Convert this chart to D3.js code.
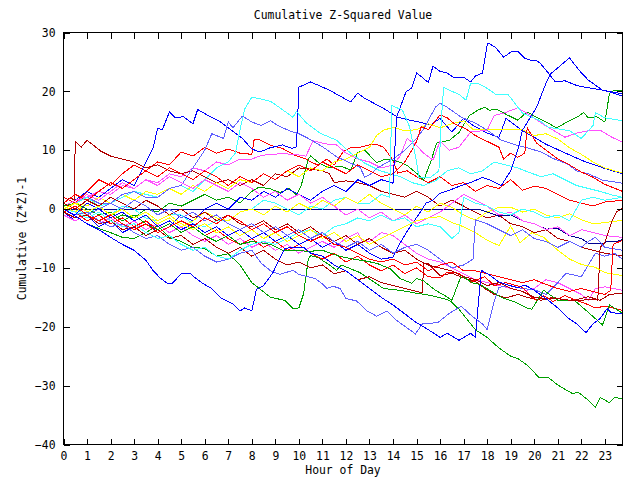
<!DOCTYPE html>
<html><head><meta charset="utf-8">
<script src="https://cdn.jsdelivr.net/npm/d3@7"></script>
<style>
body{margin:0;background:#fff}
svg{display:block}
text{font-family:"DejaVu Sans Mono","Liberation Mono",monospace;font-size:11.4px;fill:#000}
</style>
</head><body>
<svg id="chart" width="640" height="480"></svg>
<script>
// ---- texts & ticks ----
const chartTitle = "Cumulative Z-Squared Value";
const xLabel = "Hour of Day";
const yLabel = "Cumulative (Z*Z)-1";
const hourTicks = d3.range(0, 24);
const valueTicks = [-40, -30, -20, -10, 0, 10, 20, 30];

// ---- colours ----
const colorNames = ["red","green","blue","magenta","cyan","darkred","yellow","slate","navy"];
const colorValues = ["#ff0000","#00a000","#0000ff","#ff50ff","#40ffff","#b00000","#ffff00","#6060ff","#000090"];

// ---- series: [hour, cumulative value] ----
const blueA = [[0,0.5],[0.5,1.5],[1,3],[1.5,2],[2,3.5],[2.5,5],[3,4],[3.5,8],[3.8,10.3],[4.0,13.7],[4.2,13.5],[4.5,16.5],[4.75,15.5],[5.1,15.7],[5.5,14.5],[5.7,16.9],[6.1,16],[6.6,15],[7.1,13.5],[7.6,12],[8.0,10.2],[8.35,9.7],[8.77,10.4],[9.3,10.9],[9.7,10.3],[9.9,10.6],[10.0,20.7],[10.5,21.6],[11.3,20.2],[12.2,18.2],[12.5,19.7],[12.8,18.8],[13.6,17.1],[14.2,15.6],[14.6,15.2],[15.1,14.8],[15.6,14.3],[16.0,15.4],[16.5,13.1],[17.0,15.4],[17.4,14.2],[18.0,12.9],[18.5,12.2],[18.8,15.4],[19.5,13.3],[20.0,12.2],[20.5,11.0],[21.0,10.1],[21.5,9.2],[22.0,8.3],[22.5,7.6],[23.0,6.9],[23.75,6.0]];
const blueB = [[0,-0.5],[0.5,-2],[1,-1],[1.5,-3],[2,-2],[2.5,-4],[3,-3],[3.5,-2],[4,-4],[4.5,-3],[5,-1],[5.5,-2],[6,0],[6.5,1],[7,0],[7.5,2],[8,1.5],[8.5,3],[9,2],[9.5,3.5],[10,2.5],[10.5,1.5],[11,3],[11.5,4],[12,3],[12.5,5],[13,4],[13.5,5],[14.0,4.4],[14.15,15.6],[14.55,19.9],[14.8,20.6],[15.0,23.1],[15.2,22.5],[15.5,21.5],[15.7,24.3],[16.0,23.4],[16.3,23.1],[16.6,22.3],[17.0,22.4],[17.3,21.6],[17.5,22.6],[17.8,23.1],[18.0,27.9],[18.05,28.2],[18.35,27.5],[18.7,25.8],[19.05,26.8],[19.3,26.8],[19.6,25.6],[19.9,25.2],[20.1,25.2],[20.25,24.8],[20.6,23.1],[20.9,21.6],[21.3,21.8],[21.8,21.0],[22.3,20.6],[22.8,20.3],[23.3,19.9],[23.75,19.6]];
const blueC = [[0,0],[0.5,-1],[1,1],[1.5,0],[2,-1.5],[2.5,-0.5],[3,-2],[3.5,-1],[4,-3],[4.5,-2],[5,-3.5],[5.5,-2.5],[6,-4],[6.5,-3],[7,-4.5],[7.5,-3.5],[8,-5],[8.5,-4],[9,-5.5],[9.5,-4.5],[10,-6],[10.5,-5],[11,-6.5],[11.5,-5.5],[12,-7],[12.5,-6],[13,-7.5],[13.5,-8.5],[14,-8.2],[14.3,-5.8],[14.6,-3.8],[14.9,-2],[15.2,-0.3],[15.4,1],[15.7,1.5],[16,2.7],[16.4,3.2],[16.9,4],[17.3,4.5],[17.8,5.4],[18.2,4.8],[18.6,4.0],[19.0,6.5],[19.3,10],[19.5,13.4],[20.1,17.3],[20.5,21.4],[20.7,23.0],[21.0,24.0],[21.5,25.7],[21.9,23.6],[22.3,21.9],[22.9,20.2],[23.3,19.8],[23.75,19.2]];
const blueD = [[0,0],[0.5,-1.2],[1,-2.5],[1.5,-3.5],[2,-4.8],[2.5,-6],[3,-7],[3.5,-8.7],[3.8,-10.4],[4.1,-11.7],[4.4,-12.6],[4.6,-12.7],[5.0,-11],[5.4,-10.9],[5.5,-11.4],[5.9,-12.6],[6.3,-13.5],[6.7,-15.1],[7.2,-16.1],[7.5,-17.3],[7.7,-16.8],[8.0,-17.3],[8.2,-13.6],[8.5,-13],[8.9,-10.8],[9.1,-9.1],[9.4,-6.7],[9.7,-6.5],[10.2,-6.5],[10.5,-7.5],[11,-8],[11.5,-9.5],[12,-10.5],[12.5,-12],[13,-13.5],[13.5,-15],[14,-16.3],[14.5,-17.8],[15,-19.3],[15.5,-20.5],[16,-21.8],[16.3,-21.1],[16.8,-22.3],[17.3,-21.1],[17.5,-21.8],[17.75,-10.4],[18.1,-11.2],[18.5,-12.4],[18.9,-12.9],[19.3,-13.4],[19.6,-12.9],[20.0,-13.8],[20.6,-15.5],[21.0,-16.8],[21.4,-18.4],[21.8,-19.5],[22.2,-21],[22.5,-19.5],[22.8,-18.6],[23.1,-16.9],[23.25,-17.5],[23.5,-17.7],[23.75,-17.7]];
const cyanA = [[0,1],[0.5,0],[1,-1],[1.5,0.5],[2,1],[2.5,2],[3,3],[3.5,2.5],[4,2],[4.5,3.5],[5,4],[5.5,3],[6,5],[6.5,7],[7,8],[7.3,9.5],[7.5,13.5],[7.7,17],[8.0,19.0],[8.3,18.8],[8.8,18.3],[9.3,16.9],[9.75,15.6],[9.9,16.6],[10.3,14.7],[10.9,12.9],[11.6,11.7],[12.2,9.5],[12.8,7.8],[13.4,6.6],[13.8,6.1],[14.3,5.5],[14.8,4.5],[15.3,4.0],[15.8,4.8],[16.3,6.5],[16.8,7.0],[17.3,6.0],[17.8,6.5],[18.3,8.0],[18.8,7.5],[19.3,7.0],[19.8,6.2],[20.3,5.5],[20.8,6.0],[21.3,5.0],[21.8,4.0],[22.3,3.5],[22.8,3.0],[23.3,2.4],[23.75,2.0]];
const cyanB = [[0,0],[0.5,1],[1,2],[1.5,0.5],[2,-1],[2.5,0.5],[3,0],[3.5,-1.5],[4,-2],[4.5,-1],[5,-1],[5.5,-2.5],[6,-3],[6.5,-2],[7,-2],[7.5,-0.5],[8,0],[8.5,1.5],[9,1],[9.5,0],[10,-1],[10.5,0.5],[11,0],[11.5,1.5],[12,2],[12.5,1],[13,1],[13.5,2.5],[13.85,2.0],[13.95,17.6],[14.4,16.8],[14.7,14],[15.0,8],[15.1,5.4],[15.6,5.4],[15.95,6.5],[16.05,15],[16.15,20.7],[16.5,20.0],[16.8,19.5],[17.1,18.5],[17.3,21.4],[17.6,21.4],[18.0,20.5],[18.4,19.4],[18.9,19.4],[19.5,16.3],[20.2,15.1],[20.6,13.9],[21.5,13.3],[22.0,12.0],[22.5,14.2],[22.6,16.4],[23.0,15.5],[23.75,15.0]];
const cyanC = [[0,0],[0.5,-0.5],[1,-1.5],[1.5,-0.5],[2,-2],[2.5,-3],[3,-2.5],[3.5,-4],[4,-5],[4.5,-4.5],[5,-6],[5.5,-7],[6,-6.5],[6.5,-8],[7,-8.5],[7.5,-7],[8,-6],[8.5,-5.5],[9,-6],[9.5,-5],[10,-4],[10.5,-3.5],[11,-4.5],[11.5,-3],[12,-2.5],[12.5,-1.5],[13,-2],[13.5,-1],[14,-2],[14.5,-1.5],[15,-3],[15.5,-2.5],[16,-3],[16.5,-5],[16.8,-4],[17,2],[17.5,1],[18,0.5],[18.5,-0.5],[19,-1],[19.5,0],[20,-0.5],[20.5,-1.5],[21,-1],[21.5,-2],[22,1.5],[22.5,2],[23,1.5],[23.75,2.0]];
const greenA = [[0,0.5],[0.5,-0.5],[1,-1.5],[1.5,-0.5],[2,-2],[2.5,-1],[3,-1.5],[3.5,0],[4,-0.5],[4.5,1],[5,0.5],[5.5,1.5],[6,2.5],[6.5,1.5],[7,2],[7.5,1],[8,3],[8.3,3.7],[8.75,3.5],[9.2,2.8],[9.6,3.5],[9.9,2.4],[10.1,4],[10.4,8.5],[10.5,9.0],[10.9,7.7],[11.3,7.0],[11.8,7.3],[12.2,6.6],[12.5,9.6],[12.8,10],[13.3,7.9],[13.7,8.5],[14.0,8.3],[14.4,7.8],[14.6,7.4],[15.0,6.1],[15.3,4.9],[15.6,8],[15.85,11.2],[16.4,11.7],[16.8,13.0],[17.25,15.9],[17.6,16.8],[17.9,17.3],[18.1,16.8],[18.4,17.0],[18.7,16.3],[19.3,15.1],[19.7,16.5],[20.1,15.6],[20.5,14.8],[20.95,13.8],[21.4,14.8],[21.85,15.7],[22.1,16.4],[22.3,15.5],[22.65,15.7],[23.0,14.8],[23.2,19.7],[23.4,20.2],[23.75,20.2]];
const greenB = [[0,0],[0.5,-1.2],[1,-2.5],[1.5,-3.3],[2,-4],[2.5,-4.8],[3,-5],[3.5,-4],[4,-2.8],[4.5,-4.8],[5,-5.5],[5.5,-6.5],[6,-6.7],[6.5,-8],[7,-7.6],[7.5,-9.5],[8,-12.5],[8.8,-15],[9.4,-15.5],[9.75,-16.9],[10.0,-16.8],[10.2,-14.4],[10.4,-8.5],[10.5,-7.9],[10.8,-8.2],[11.3,-9.5],[11.6,-10.4],[11.8,-9.5],[12.6,-10.8],[13.6,-13.5],[14.3,-13.8],[15.0,-14.3],[15.65,-14.7],[16.4,-15.5],[16.8,-17],[17.5,-20.5],[18,-21.8],[18.5,-23.6],[19,-25],[19.3,-25.4],[19.7,-26.5],[20.2,-28.6],[20.6,-28.6],[21,-29.9],[21.6,-31.3],[21.9,-31.2],[22.3,-32.5],[22.6,-33.7],[22.8,-32],[23.2,-32.9],[23.4,-32],[23.75,-32.2]];
const greenC = [[0,0.5],[0.5,1],[1,0],[1.5,-1],[2,-0.5],[2.5,-2],[3,-1],[3.5,-2.5],[4,-3.5],[4.5,-2.5],[5,-4],[5.5,-3],[6,-4.5],[6.5,-5.5],[7,-4.5],[7.5,-6],[8,-5.5],[8.8,-6],[9.3,-7],[9.9,-7],[10.4,-7.2],[11,-7],[11.7,-8],[12.3,-8.5],[12.8,-8.8],[13.3,-9.2],[13.9,-10.2],[14.3,-11.8],[14.8,-12.6],[15.0,-11.8],[15.3,-12.2],[15.8,-13.8],[16.2,-14.7],[16.5,-15.5],[16.9,-11.3],[17.4,-12.6],[17.7,-12.8],[18.1,-13.8],[18.6,-15],[19.2,-15.8],[19.7,-16.8],[19.9,-17],[20.4,-13.8],[21,-15.5],[21.7,-15.5],[22.2,-17.2],[22.9,-19.7],[23.2,-16.3],[23.75,-17.7]];
const slateA = [[0,0],[0.5,-1],[1,-0.5],[1.5,-2],[2,-3],[2.5,-2.5],[3,-4],[3.5,-5],[4,-4.5],[4.5,-6],[5,-7],[5.5,-6.5],[6,-8],[6.5,-9],[7,-8.5],[7.5,-7.5],[8,-7],[8.4,-9.2],[8.8,-10.5],[9.2,-11.1],[9.75,-10.4],[10.0,-11.1],[10.7,-11.8],[11.0,-12.7],[11.2,-13.5],[11.45,-13.1],[11.75,-13.5],[12.0,-15.2],[12.45,-15.6],[12.9,-17.3],[13.3,-18.2],[13.75,-17.3],[14.15,-18.9],[14.6,-20.2],[14.95,-21.2],[15.25,-19.5],[15.9,-19.3],[16.4,-17.7],[16.9,-16.5],[17.3,-18],[17.8,-19.5],[18.0,-20.5],[18.3,-15.6],[18.5,-13.3],[19.0,-13.0],[19.5,-13.5],[20.0,-13.7],[20.5,-14.5],[21.0,-12.5],[21.35,-10.9],[22.0,-11.5],[22.6,-7.5],[23.0,-8],[23.4,-7.5],[23.75,-8.5]];
const slateB = [[0,0],[0.5,1],[1,2],[1.5,1],[2,1],[2.5,2.5],[3,3],[3.5,2],[4,2],[4.5,3.5],[5,4],[5.5,7],[6,10],[6.3,12.8],[6.8,12],[7.0,14.8],[7.2,13.8],[7.6,15.8],[8.0,14.8],[8.4,14.2],[8.8,15],[9.1,14.2],[9.6,13.3],[10,12.8],[10.4,12],[11,10.6],[11.6,8.9],[12.2,7.8],[12.6,7.1],[12.8,5.4],[13.1,6.1],[13.3,6.9],[14,8.5],[14.5,10],[15.0,12],[15.3,13.6],[15.8,17.3],[16.0,18],[16.3,17.3],[16.9,15.6],[17.5,14.6],[18.0,13.4],[18.6,11.7],[19.2,10.9],[19.7,10.4],[20.3,9.7],[20.8,8.6],[21.4,7.7],[21.8,6.5],[22.3,6.0],[22.9,4.9],[23.75,4.4]];
const slateC = [[0,-0.5],[0.5,0.5],[1,-1],[1.5,0],[2,1],[2.5,0],[3,1.5],[3.5,0.5],[4,-1],[4.5,0],[5,-1.5],[5.5,-0.5],[6,-2],[6.5,-1],[7,-2.5],[7.5,-3.5],[8,-2.5],[8.5,-4],[9,-3],[9.5,-4.5],[10,-3.5],[10.5,-5],[11,-4],[11.5,-5.5],[12,-6.5],[12.5,-5.5],[13,-7],[13.5,-6],[14,-7.5],[14.5,-6.5],[15,-6],[15.5,-7],[16,-8.5],[16.5,-10],[17,-9.5],[17.4,-8.5],[17.5,-1.8],[18,-2.5],[18.5,-3.5],[19,-4.5],[19.5,-3.5],[20,-5],[20.5,-5.5],[21,-6.5],[21.5,-5.5],[22,-6.5],[22.3,-5.5],[22.6,-4.8],[23,-6.5],[23.75,-7.0]];
const navyA = [[0,0],[17.6,0],[18,-0.5],[18.5,-1.2],[19,-1.0],[19.5,-2.0],[20,-2.5],[20.5,-3.4],[21,-3.3],[21.5,-4.5],[22,-5.0],[22.3,-5.8],[22.5,-5.9],[22.9,-5.9],[23.1,-5.5],[23.4,-5.6],[23.75,-5.2]];
const magentaA = [[0,0.5],[0.5,1.5],[1,2],[1.5,3],[2,2.5],[2.5,4],[3,3.5],[3.5,5],[4,4.5],[4.5,6],[5,5.5],[5.5,7],[6,6.5],[6.5,8],[7,7.5],[7.5,8.5],[8,8.5],[8.4,9.1],[8.8,9.3],[9.3,9.4],[9.8,9.3],[10.3,9.0],[10.6,11.6],[11.1,11.1],[11.6,10.9],[12.0,9.5],[12.5,8.5],[13,8],[13.5,7],[14,7.5],[14.3,9],[14.6,12],[15,10.8],[15.3,9.5],[15.7,8.3],[16,11.6],[16.4,10],[16.8,10.5],[17.3,13.1],[18,13.4],[18.3,15.9],[18.7,16.3],[19.3,17.2],[19.8,16],[20.3,14.6],[20.8,13.4],[21.3,12.2],[21.8,12.9],[22.4,13.4],[22.8,13.4],[23.3,12.2],[23.75,11.4]];
const magentaB = [[0,-1],[0.5,-2],[1,-1],[1.5,-2.5],[2,-1.5],[2.5,-3],[3,-2],[3.5,-3.5],[4,-2.5],[4.5,-4],[5,-3],[5.5,-4.5],[6,-5.5],[6.5,-4.5],[7,-6],[7.5,-5],[8,-6.5],[8.5,-5.5],[9,-7],[9.5,-6],[10,-7.5],[10.5,-6.5],[11,-5.5],[11.5,-6.5],[12,-5],[12.5,-4],[12.7,-5.5],[13,-5.5],[13.5,-4],[14,-4.5],[14.5,-6],[15,-7.5],[15.5,-8.5],[16,-9],[16.5,-10],[17,-11],[17.5,-12],[18,-12.5],[18.5,-13],[19,-13.5],[19.5,-14],[20,-13.5],[20.5,-12],[21,-12.5],[21.5,-13.5],[22,-14.5],[22.3,-15.5],[22.6,-13.5],[23,-13.2],[23.75,-13.8]];
const magentaC = [[0,0],[0.5,1],[1,2.5],[1.5,1.5],[2,3],[2.5,4.5],[3,3.5],[3.5,5],[4,4],[4.5,5.5],[5,4.5],[5.5,3.5],[6,5],[6.5,4],[7,3],[7.5,4.5],[8,3.5],[8.5,2],[9,3],[9.5,1.5],[10,2.5],[10.5,1],[11,2],[11.5,0.5],[12,-1],[12.5,0],[13,-1.5],[13.5,-0.5],[14,-2],[14.5,-1],[15,-2.5],[15.5,-1.5],[16,-0.5],[16.5,1],[17,2.5],[17.5,1.5],[18,0.5],[18.5,-1],[19,-0.5],[19.5,-2],[20,-2.5],[20.5,-3.5],[21,-3],[21.5,-4.5],[22,-3.5],[22.5,-4],[23,-4.5],[23.75,-4.8]];
const yellowA = [[0,0],[0.5,1],[1,0.5],[1.5,2],[2,1],[2.5,2.5],[3,1.5],[3.5,3],[4,2.5],[4.5,3.5],[5,2.5],[5.5,4],[6,3],[6.5,4.5],[7,3.5],[7.5,5],[8,4.5],[8.5,6],[9,5],[9.5,6.5],[10,5.5],[10.5,7],[11,6.5],[11.5,8],[12,8.5],[12.5,9.5],[13,10.5],[13.3,12.5],[13.6,13.4],[14,13.9],[14.5,13.3],[15,13.5],[15.5,14.5],[16,13.8],[16.5,14.5],[17,15],[17.4,13.5],[18,13.5],[18.5,13.5],[19,13.5],[19.5,13.5],[20,12.5],[20.5,12.8],[21,11.9],[21.5,10.4],[22,9.3],[22.5,8.0],[23,7.0],[23.75,6.1]];
const yellowB = [[0,0.5],[0.5,-0.5],[1,1],[1.5,0],[2,-1.5],[2.5,-0.5],[3,-2],[3.5,-1],[4,-2.5],[4.5,-1.5],[5,-3],[5.5,-2],[6,-0.5],[6.5,-1.5],[7,-2],[7.5,-0.5],[8,0],[8.5,-1],[9,0.5],[9.5,-0.5],[10,1],[10.5,0],[11,1.5],[11.5,0.5],[12,2],[12.5,1],[13,2.5],[13.5,1],[14,0],[14.5,-1],[15,0.5],[15.5,-0.5],[16,1],[16.5,0.3],[17,-1],[17.5,-1.9],[18,-0.5],[18.5,0.3],[19,0.3],[19.5,-0.5],[20,0],[20.5,-1],[21,-1.5],[21.5,-0.8],[22,-1.8],[22.5,-2.5],[23,-2.3],[23.75,-1.9]];
const yellowC = [[0,0],[0.5,1],[1,-0.5],[1.5,0.5],[2,-1],[2.5,0],[3,-1.5],[3.5,-0.5],[4,-2],[4.5,-1],[5,-2.5],[5.5,-3.5],[6,-2.5],[6.5,-4],[7,-3],[7.5,-4.5],[8,-3.5],[8.5,-5],[9,-4],[9.5,-5.5],[10,-4.5],[10.5,-3.5],[11,-5],[11.5,-4],[12,-5.5],[12.5,-4.5],[13,-6],[13.5,-5],[14,-4],[14.5,-3],[15,-2],[15.5,-1.5],[16,-1.3],[16.5,-2.3],[17,-3],[17.5,-4],[18,-5.3],[18.5,-6.2],[19,-2.9],[19.4,-5.7],[19.9,-4],[20.4,-4.8],[21,-7],[21.5,-8.5],[22,-9.4],[22.6,-9.9],[23,-10.8],[23.75,-11.3]];
const redA = [[0,2],[0.5,1],[1,3],[1.5,5],[2,4],[2.5,6],[3,7.5],[3.5,6.5],[4,8],[4.5,7.5],[5,9.7],[5.5,9],[6,10.5],[6.5,9.5],[7,10.2],[7.5,9.5],[8,9.3],[8.1,11.8],[8.3,11.8],[8.8,10.8],[9.3,10.3],[9.8,9.2],[10.3,8.5],[10.5,8],[10.8,7.5],[11.2,8.5],[11.5,7.5],[11.9,9.8],[12.2,10.4],[12.6,10.5],[13,10.9],[13.3,11],[13.6,10.5],[14,8.3],[14.2,6.1],[14.6,6.5],[15,5.5],[15.5,4.5],[16,5.5],[16.5,4],[17,4.5],[17.5,3],[18,4],[18.5,3.5],[19,5],[19.5,3.2],[20,3.9],[20.5,3.5],[21,2.5],[21.5,1.5],[22,1],[22.5,0.5],[23,1.2],[23.75,1.5]];
const redB = [[0,1],[0.5,2.5],[1,1.5],[1.5,3],[2,4.5],[2.5,3.5],[3,5],[3.5,6.5],[4,5.5],[4.5,7],[5,6],[5.5,5],[6,6.5],[6.5,5.5],[7,4],[7.5,5.5],[8,4.5],[8.5,6],[9,5],[9.5,6.5],[10,7.5],[10.5,6.5],[11,8],[11.5,7],[12,6],[12.5,7.5],[13,6.5],[13.5,5.5],[14,6],[14.5,8],[14.8,10],[15.0,11.5],[15.2,14],[15.5,13.5],[15.7,14.5],[16.0,16],[16.3,15.5],[16.6,14.5],[17.1,13.6],[17.5,12.5],[18.0,11.5],[18.5,10.5],[18.7,8.5],[19,9.5],[19.3,8.8],[19.6,9.5],[19.7,13.8],[20.1,11.2],[20.6,9.7],[21.0,8.5],[21.5,7.5],[22.0,6.3],[22.5,5.4],[23.0,4.2],[23.75,3.0]];
const redC = [[0,0],[0.5,-0.5],[1,-2],[1.5,-1],[2,-2.5],[2.5,-1.5],[3,-3],[3.5,-2],[4,-3.5],[4.5,-2.5],[5,-4],[5.5,-3],[6,-4.5],[6.5,-3.5],[7,-5],[7.5,-6],[8,-5],[8.5,-6.5],[9,-5.5],[9.5,-7],[10,-6],[10.5,-7.5],[11,-8.5],[11.5,-7.5],[12,-9],[12.5,-8],[13,-9.5],[13.5,-10.5],[14,-9.5],[14.5,-11],[15,-10],[15.5,-11.5],[16,-11.7],[16.3,-10.7],[16.8,-10.9],[17.3,-12.4],[17.9,-11.5],[18.3,-13],[18.8,-12.5],[19.5,-13.3],[19.9,-15],[20.1,-15.5],[20.4,-14.7],[20.8,-15.7],[21.3,-14.7],[21.8,-15.5],[22.2,-16.1],[22.6,-16.8],[23.0,-16.5],[23.75,-17.2]];
const redD = [[0,-0.5],[0.5,0.5],[1,-1],[1.5,-2],[2,-1],[2.5,-2.5],[3,-3.5],[3.5,-2.5],[4,-4],[4.5,-3],[5,-2],[5.5,-3],[6,-1.5],[6.5,-2.5],[7,-1],[7.5,-2],[8,-3.5],[8.5,-2.5],[9,-4],[9.5,-3],[10,-4.5],[10.5,-5.5],[11,-4.5],[11.5,-6],[12,-6.5],[12.5,-7.5],[13,-8.5],[13.5,-9],[14,-8.5],[14.5,-9.5],[15,-9],[15.5,-10.5],[16,-9.5],[16.5,-9],[17,-10.5],[17.5,-10.5],[18,-11],[18.5,-11.5],[19,-12],[19.5,-12.5],[20,-12],[20.5,-12.8],[21,-13.5],[21.5,-14],[22,-13.5],[22.5,-14],[23,-14.5],[23.25,-13.8],[23.35,-6],[23.75,-5.3]];
const darkredA = [[0,1],[0.3,2],[0.45,1.5],[0.5,11.5],[0.75,10.5],[1.0,11.7],[1.6,9.8],[2.0,9],[2.5,8.5],[3,8],[3.5,7],[4,7.5],[4.5,6.5],[5,6],[5.5,6.5],[6,5.5],[6.5,4.5],[7,5],[7.5,4],[8,5],[8.5,4],[9,6],[9.5,5.5],[10,7],[10.5,6.8],[11,6.5],[11.3,6],[11.5,4.5],[12,4.8],[12.5,4.5],[13,4],[13.5,3],[14,2.5],[14.5,2],[15,3],[15.5,2],[16,0.5],[16.5,1.5],[17,0.5],[17.5,-0.5],[18,-1.5],[18.5,-1],[19,-2.5],[19.5,-3],[20,-4],[20.5,-3.5],[21,-5],[21.5,-5.5],[22,-6.5],[22.5,-7],[23,-7.5],[23.75,-8]];
const darkredB = [[0,-0.5],[0.5,-1.5],[1,-1],[1.5,-2.5],[2,-2],[2.5,-3.5],[3,-3],[3.5,-4.5],[4,-3.5],[4.5,-5],[5,-4.5],[5.5,-6],[6,-5],[6.5,-6.5],[7,-7.5],[7.5,-6.5],[8,-8],[8.5,-7],[9,-8.5],[9.5,-9.5],[10,-9],[10.5,-10],[11,-9.5],[11.5,-11],[12,-10.5],[12.5,-12],[13,-11.5],[13.5,-12.5],[14,-13],[14.5,-13.5],[15,-14],[15.25,-14.2],[15.3,-9.2],[15.5,-9.3],[16,-11.3],[16.5,-10.9],[17,-11.7],[17.5,-12.3],[17.9,-13.5],[18.3,-14.5],[18.8,-15.1],[19.3,-14.5],[19.8,-15.1],[20.3,-15.5],[20.8,-15],[21.3,-15.5],[21.8,-15.4],[22.3,-14.9],[22.8,-15.5],[23.2,-14.5],[23.75,-14.3]];
const darkredC = [[0,1],[0.5,0],[1,1.5],[1.5,0.5],[2,2],[2.5,1],[3,0],[3.5,1.5],[4,0.5],[4.5,-1],[5,0],[5.5,-1.5],[6,-0.5],[6.5,-2],[7,-1],[7.5,-2.5],[8,-3],[8.5,-2],[9,-3.5],[9.5,-2.5],[10,-4],[10.5,-3],[11,-4.5],[11.5,-5.5],[12,-4.5],[12.5,-6],[13,-5],[13.5,-6.5],[14,-7.5],[14.5,-7],[15,-8.5],[15.5,-9.5],[16,-10],[16.5,-10.5],[17,-11.5],[17.5,-12],[18,-13],[18.5,-12.5],[19,-13.5],[19.5,-14],[20,-15],[20.5,-15.3],[21,-15.2],[21.5,-15.5],[22,-15.5],[22.5,-15.3],[22.7,-15.5],[22.8,-6.5],[23.0,-5.7],[23.3,-2],[23.5,-0.5],[23.75,0.2]];

const seriesList = [
  {data: redA, color: "red"}, {data: greenA, color: "green"}, {data: blueA, color: "blue"},
  {data: magentaA, color: "magenta"}, {data: cyanA, color: "cyan"}, {data: darkredA, color: "darkred"},
  {data: yellowA, color: "yellow"}, {data: slateB, color: "slate"}, {data: navyA, color: "navy"},
  {data: redB, color: "red"}, {data: greenB, color: "green"}, {data: blueB, color: "blue"},
  {data: magentaB, color: "magenta"}, {data: cyanB, color: "cyan"}, {data: darkredB, color: "darkred"},
  {data: yellowB, color: "yellow"}, {data: slateA, color: "slate"},
  {data: redC, color: "red"}, {data: greenC, color: "green"}, {data: blueC, color: "blue"},
  {data: magentaC, color: "magenta"}, {data: cyanC, color: "cyan"}, {data: darkredC, color: "darkred"},
  {data: yellowC, color: "yellow"}, {data: slateC, color: "slate"},
  {data: redD, color: "red"}, {data: blueD, color: "blue"}
];

// ---- drawing ----
const svg = d3.select("#chart");
const L = 63.5, R = 622.5, T = 32.5, B = 444.5;
const x = d3.scaleLinear().domain([0, 23.75]).range([L, R]);
const y = d3.scaleLinear().domain([-40, 30]).range([B, T]);
const colorScale = d3.scaleOrdinal().domain(colorNames).range(colorValues);

svg.append("rect").attr("width", 640).attr("height", 480).attr("fill", "#fff");

svg.append("defs").append("clipPath").attr("id", "plotclip")
  .append("rect").attr("x", L).attr("y", T).attr("width", R - L).attr("height", B - T);

const line = d3.line().x(d => x(d[0])).y(d => y(d[1]));
const g = svg.append("g").attr("clip-path", "url(#plotclip)");
g.selectAll("path").data(seriesList).join("path")
  .attr("d", d => line(d.data))
  .attr("fill", "none")
  .attr("stroke", d => colorScale(d.color))
  .attr("stroke-width", 1)
  .attr("shape-rendering", "crispEdges");

// axes
const axB = svg.append("g").attr("transform", `translate(0,${B})`)
  .call(d3.axisBottom(x).tickValues(hourTicks).tickFormat(d3.format("d")).tickSizeInner(-6).tickSizeOuter(0).tickPadding(7));
const axT = svg.append("g").attr("transform", `translate(0,${T})`)
  .call(d3.axisTop(x).tickValues(hourTicks).tickFormat("").tickSizeInner(-6).tickSizeOuter(0));
const axL = svg.append("g").attr("transform", `translate(${L},0)`)
  .call(d3.axisLeft(y).tickValues(valueTicks).tickFormat(d3.format("d")).tickSizeInner(-6).tickSizeOuter(0).tickPadding(8));
const axR = svg.append("g").attr("transform", `translate(${R},0)`)
  .call(d3.axisRight(y).tickValues(valueTicks).tickFormat("").tickSizeInner(-6).tickSizeOuter(0));
[axB, axT, axL, axR].forEach(a => {
  a.selectAll(".domain").remove();
  a.selectAll("line").attr("stroke", "#000").attr("shape-rendering", "crispEdges");
  a.selectAll("text").attr("fill", "#000").attr("font-family", null).attr("font-size", null);
});

svg.append("rect").attr("x", L).attr("y", T).attr("width", R - L).attr("height", B - T)
  .attr("fill", "none").attr("stroke", "#000").attr("stroke-width", 1).attr("shape-rendering", "crispEdges");

svg.append("text").attr("x", (L + R) / 2).attr("y", 19).attr("text-anchor", "middle").text(chartTitle);
svg.append("text").attr("x", (L + R) / 2).attr("y", 474).attr("text-anchor", "middle").text(xLabel);
svg.append("text").attr("transform", `translate(26,${(T + B) / 2}) rotate(-90)`).attr("text-anchor", "middle").text(yLabel);
</script>
</body></html>
